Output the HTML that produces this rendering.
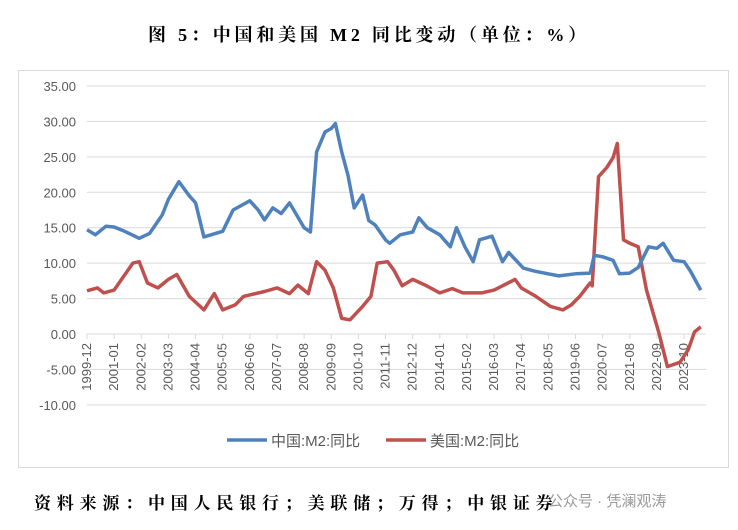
<!DOCTYPE html>
<html><head><meta charset="utf-8">
<style>
body{margin:0;background:#fff;width:738px;height:530px;overflow:hidden;font-family:"Liberation Serif","Noto Serif CJK SC",serif;}
#title{position:absolute;left:0;width:738px;top:21px;text-align:center;font-size:18px;font-weight:bold;letter-spacing:3.8px;color:#000;}
#footer{position:absolute;left:34px;top:489px;font-size:17px;font-weight:bold;letter-spacing:5.8px;color:#000;}
#wm{position:absolute;left:548px;top:490px;font-size:15px;color:#999;font-family:"Liberation Sans","Noto Sans CJK SC",sans-serif;}
svg{position:absolute;left:0;top:0;}
</style></head><body>
<div id="title">图 5：中国和美国 M2 同比变动（单位：%）</div>
<svg id="chart" width="738" height="530"></svg>
<div id="footer">资料来源：中国人民银行；美联储；万得；中银证券</div>
<div id="wm">公众号 · 凭澜观涛</div>
<script>
const yTicks=[35,30,25,20,15,10,5,0,-5,-10];
const xLabels=["1999-12","2001-01","2002-02","2003-03","2004-04","2005-05","2006-06","2007-07","2008-08","2009-09","2010-10","2011-11","2012-12","2014-01","2015-02","2016-03","2017-04","2018-05","2019-06","2020-07","2021-08","2022-09","2023-10"];
const cnDates=["1999-12","2000-04","2000-09","2001-01","2001-06","2002-01","2002-06","2002-12","2003-03","2003-08","2004-01","2004-04","2004-08","2005-05","2005-10","2006-06","2006-10","2007-01","2007-05","2007-09","2008-01","2008-05","2008-08","2008-11","2009-02","2009-06","2009-09","2009-11","2010-02","2010-05","2010-08","2010-12","2011-03","2011-06","2011-11","2012-01","2012-06","2012-12","2013-03","2013-07","2014-01","2014-06","2014-09","2015-01","2015-05","2015-08","2016-02","2016-07","2016-10","2017-05","2017-10","2018-03","2018-10","2019-06","2020-01","2020-03","2020-07","2020-12","2021-03","2021-08","2021-12","2022-05","2022-09","2022-12","2023-05","2023-10","2024-01","2024-06"];
const cnVals=[14.7,14.0,15.2,15.1,14.5,13.5,14.2,16.8,19.0,21.5,19.5,18.5,13.7,14.5,17.5,18.8,17.5,16.1,17.8,17.0,18.5,16.5,15.0,14.4,25.7,28.5,29.0,29.7,25.7,22.4,17.8,19.6,16.0,15.4,13.3,12.8,14.0,14.4,16.4,15.0,14.0,12.3,15.0,12.3,10.2,13.3,13.8,10.2,11.5,9.3,8.9,8.6,8.2,8.5,8.6,11.1,10.9,10.4,8.5,8.6,9.4,12.3,12.1,12.8,10.4,10.2,8.9,6.2];
const usDates=["1999-12","2000-05","2000-08","2001-01","2001-05","2001-10","2002-01","2002-05","2002-10","2003-03","2003-07","2004-01","2004-08","2005-01","2005-05","2005-11","2006-03","2007-01","2007-07","2008-01","2008-05","2008-10","2009-02","2009-06","2009-10","2010-02","2010-06","2010-12","2011-04","2011-07","2011-12","2012-03","2012-07","2012-12","2013-06","2014-01","2014-07","2014-12","2015-09","2016-03","2017-01","2017-04","2017-11","2018-06","2018-12","2019-04","2019-08","2020-01","2020-02","2020-05","2020-09","2020-12","2021-02","2021-05","2021-08","2021-12","2022-04","2022-10","2023-02","2023-08","2023-12","2024-03","2024-06"];
const usVals=[6.1,6.5,5.8,6.2,7.9,10.0,10.2,7.2,6.5,7.7,8.4,5.3,3.4,5.7,3.4,4.1,5.3,6.0,6.5,5.7,6.9,5.7,10.2,9.0,6.5,2.2,2.0,3.9,5.3,10.0,10.2,9.0,6.8,7.7,6.9,5.8,6.4,5.8,5.8,6.2,7.7,6.5,5.3,3.9,3.4,4.1,5.3,7.2,6.8,22.2,23.5,24.9,26.9,13.3,12.8,12.3,6.2,0.1,-4.6,-4.0,-2.2,0.3,1.0];

const NS="http://www.w3.org/2000/svg";
const svg=document.getElementById('chart');
function mk(t,a,p){const e=document.createElementNS(NS,t);for(const k in a)e.setAttribute(k,a[k]);(p||svg).appendChild(e);return e;}
function mIdx(d){const [y,m]=d.split('-').map(Number);return (y-1999)*12+m-12;}
const X=m=>87+m*27.14/13;
const Y=v=>334-v*7.086;

const box=mk('rect',{x:18.5,y:70.5,width:710,height:397,fill:'none',stroke:'#d9d9d9'});



yTicks.forEach(v=>{
  const g=mk('line',{x1:87,x2:706,y1:Y(v),y2:Y(v),stroke:'#d9d9d9','stroke-width':1});
  
  
  const t=mk('text',{x:76,y:Y(v)+5,'text-anchor':'end','font-size':13,fill:'#595959','font-family':'Liberation Sans, sans-serif'});
  t.textContent=v.toFixed(2);
  
  
});
xLabels.forEach(d=>{
  const x=X(mIdx(d));
  const tk=mk('line',{x1:x,x2:x,y1:334,y2:339,stroke:'#d9d9d9'});
  
  
  const t=mk('text',{x:0,y:0,'text-anchor':'end','font-size':13,fill:'#595959','font-family':'Liberation Sans, sans-serif',transform:`translate(${x+4},343) rotate(-90)`});
  t.textContent=d;
  
  
});
function series(dates,vals,color,name){
  const pts=dates.map((d,i)=>X(mIdx(d)).toFixed(1)+','+Y(vals[i]).toFixed(1)).join(' ');
  const p=mk('polyline',{points:pts,fill:'none',stroke:color,'stroke-width':3.5,'stroke-linejoin':'round'});
  
  
}
series(usDates,usVals,'#c0504d','us-m2-line');
series(cnDates,cnVals,'#4f81bd','china-m2-line');

const lg=[['#4f81bd','中国:M2:同比',227,'legend-china'],['#c0504d','美国:M2:同比',386,'legend-us']];
lg.forEach(([c,txt,x,n])=>{
  const g=mk('g',{});
  
  
  mk('line',{x1:x,x2:x+40,y1:440,y2:440,stroke:c,'stroke-width':3.5},g);
  const t=mk('text',{x:x+44,y:446,'font-size':15,fill:'#595959','font-family':'Liberation Sans, Noto Sans CJK SC, sans-serif'},g);
  t.textContent=txt;
});
</script>
</body></html>
